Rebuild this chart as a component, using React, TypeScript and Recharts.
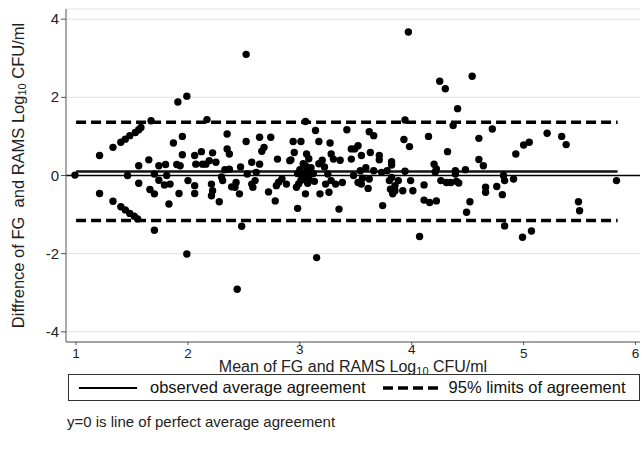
import { ScatterChart, Scatter, XAxis, YAxis, CartesianGrid, ReferenceLine, Label } from 'recharts'

const FONT = '"Liberation Sans", Arial, Helvetica, sans-serif'

// Bland-Altman: mean of the two methods vs their difference (log10 CFU/ml)
const pointsLow: [number, number][] = [
  [0.99, 0.01], [1.21, 0.51], [1.33, 0.72], [1.40, 0.85], [1.44, 0.93], [1.48, 1.02],
  [1.53, 1.10], [1.56, 1.17], [1.58, 1.23], [1.67, 1.40], [1.21, -0.46], [1.33, -0.66],
  [1.40, -0.80], [1.44, -0.88], [1.48, -0.97], [1.52, -1.04], [1.55, -1.11], [1.46, 0.0],
  [1.56, 0.25], [1.56, -0.2], [1.65, 0.40], [1.66, -0.36], [1.70, 0.04], [1.70, -0.47],
  [1.70, -1.40], [1.74, 0.25], [1.74, -0.12], [1.79, -0.24], [1.80, 0.28], [1.83, -0.73],
  [1.81, 0.0], [1.87, 0.83], [1.90, 0.28], [1.91, 1.88], [1.92, -0.46], [1.95, 1.0],
  [1.95, 0.53], [1.93, 0.25], [1.99, 2.03], [1.99, -2.01], [2.0, -0.13], [1.84, -0.22],
]

const pointsMid: [number, number][] = [
  [2.06, 0.51], [2.07, 0.29], [2.06, -0.26], [2.06, -0.46], [2.12, 0.61], [2.13, 0.29],
  [2.17, 1.43], [2.16, 0.29], [2.19, 0.38], [2.21, -0.22], [2.22, -0.39], [2.21, -0.52],
  [2.22, 0.58], [2.25, 0.34], [2.28, -0.67], [2.31, -0.13], [2.30, -0.04], [2.33, 0.15],
  [2.35, 1.06], [2.35, 0.68], [2.37, 0.55], [2.37, 0.16], [2.39, -0.29], [2.42, -0.30],
  [2.43, -0.18], [2.44, -2.91], [2.46, -0.47], [2.48, -1.30], [2.47, 0.22], [2.52, 3.1],
  [2.52, 0.87], [2.53, 0.04], [2.57, 0.34], [2.57, -0.22], [2.58, -0.30], [2.60, -0.13],
  [2.61, 0.08], [2.64, 0.98], [2.64, 0.29], [2.68, 0.72], [2.66, 0.62], [2.72, -0.42],
  [2.74, 0.98], [2.78, -0.65], [2.79, -0.26], [2.80, 0.42], [2.81, -0.17], [2.84, -0.09],
  [2.88, -0.22], [2.91, 0.38], [2.92, 0.40], [2.94, 0.87], [2.95, 0.59], [2.97, -0.30],
  [2.98, -0.84], [2.99, -0.21], [2.98, 0.05], [3.0, 0.15], [3.02, 0.0], [3.04, -0.1],
  [3.05, 0.25], [3.06, 0.1], [3.08, -0.05], [3.10, 0.2], [3.12, 0.05], [3.13, -0.15],
  [3.03, 0.3], [3.07, -0.2], [3.01, -0.12], [3.01, 0.87], [3.05, 1.38], [3.05, -0.47],
  [3.06, 0.55], [3.08, 0.43], [3.14, 1.15], [3.15, -2.10], [3.17, 0.87], [3.18, -0.47],
  [3.17, 0.30], [3.20, 0.39], [3.22, 0.22], [3.23, -0.22], [3.26, -0.43], [3.27, 0.83],
  [3.28, 0.55], [3.25, 0.04], [3.28, -0.13], [3.30, 0.42], [3.32, -0.22], [3.35, -0.86],
  [3.36, 0.39], [3.38, -0.18], [3.42, 1.17], [3.46, 0.68], [3.46, 0.42], [3.49, 0.68],
  [3.48, 0.0], [3.52, 0.76], [3.52, -0.18],
]

const pointsHigh: [number, number][] = [
  [3.55, 0.51], [3.54, 0.12], [3.55, -0.22], [3.56, -0.07], [3.59, 0.20], [3.61, -0.33],
  [3.62, 1.12], [3.63, 0.59], [3.62, -0.09], [3.66, 1.02], [3.66, 0.12], [3.71, 0.51],
  [3.71, 0.40], [3.73, 0.08], [3.74, -0.77], [3.78, 0.12], [3.82, 0.35], [3.82, 0.27],
  [3.80, -0.13], [3.82, -0.05], [3.81, -0.35], [3.83, -0.47], [3.85, -0.26], [3.85, -0.39],
  [3.88, -0.13], [3.92, -0.39], [3.94, 1.42], [3.93, 0.92], [3.94, 0.11], [3.97, 3.67],
  [3.98, 0.74], [3.99, -0.13], [4.01, -0.39], [4.07, -1.56], [4.11, -0.24], [4.11, -0.63],
  [4.15, 1.0], [4.16, -0.69], [4.20, 0.29], [4.21, 0.09], [4.22, 0.17], [4.22, -0.65],
  [4.25, 2.41], [4.30, 2.22], [4.26, -0.13], [4.31, -0.18], [4.32, 0.61], [4.35, -0.18],
  [4.37, 1.28], [4.39, 0.12], [4.39, 0.04], [4.41, 1.71], [4.40, -0.15], [4.42, -0.19],
  [4.48, 0.15], [4.49, -0.94], [4.52, -0.67], [4.54, 2.54], [4.60, 0.95], [4.60, 0.41],
  [4.64, 0.25], [4.66, -0.30], [4.66, -0.43], [4.72, 1.19], [4.76, -0.28], [4.81, -0.49],
  [4.83, -0.13], [4.82, 0.0], [4.83, -1.29], [4.91, -0.09], [4.93, 0.55], [4.99, -1.58],
  [5.0, 0.78], [5.05, 0.85], [5.07, -1.42], [5.21, 1.08], [5.34, 1.0], [5.38, 0.79],
  [5.49, -0.67], [5.50, -0.9], [5.83, -0.13],
]

const meanDiff = 0.1
const upperLimit = 1.36
const lowerLimit = -1.15
const lineStart = 1
const lineEnd = 5.84

const xTicks = [1, 2, 3, 4, 5, 6]
const yTicks = [-4, -2, 0, 2, 4]

const data = [...pointsLow, ...pointsMid, ...pointsHigh].map(([m, d]) => ({ mean: m, diff: d }))

const Dot = (props: any) => <circle cx={props.cx} cy={props.cy} r={3.7} fill="#000" />

// stata nudges the 3 and 4 labels up so they clear the axis title
const XTick = ({ x, y, payload }: any) => {
  const raised = payload.value === 3 || payload.value === 4
  return (
    <text x={x} y={y} dy={raised ? 7 : 11} textAnchor="middle" fontSize={13.5} fill="#222" fontFamily={FONT}>
      {payload.value}
    </text>
  )
}

const YTick = ({ x, y, payload }: any) => (
  <text x={x} y={y} dy={5} textAnchor="end" fontSize={15} fill="#222" fontFamily={FONT}>
    {payload.value}
  </text>
)

const YTitle = ({ viewBox }: any) => {
  const cx = 18
  const cy = viewBox.y + viewBox.height / 2
  return (
    <text
      x={cx}
      y={cy}
      transform={`rotate(-90 ${cx} ${cy})`}
      textAnchor="middle"
      dominantBaseline="central"
      fontSize={16.5}
      fill="#222"
      fontFamily={FONT}
      style={{ whiteSpace: 'pre' }}
    >
      Diffrence of FG  and RAMS Log<tspan fontSize={11} dy={4}>10</tspan>
      <tspan dy={-4}> CFU/ml</tspan>
    </text>
  )
}

const XTitle = ({ viewBox }: any) => {
  const cx = viewBox.x + viewBox.width / 2
  return (
    <text x={cx} y={372} textAnchor="middle" fontSize={16} fill="#222" fontFamily={FONT}>
      Mean of FG and RAMS Log<tspan fontSize={11} dy={3}>10</tspan>
      <tspan dy={-3}> CFU/ml</tspan>
    </text>
  )
}

export default function App() {
  return (
    <div style={{ position: 'absolute', left: 0, top: 0, width: 642, height: 456, background: '#fff' }}>
      <ScatterChart width={642} height={380} margin={{ top: 9, right: 2, bottom: 8, left: 0 }}>
        <CartesianGrid vertical={false} stroke="#e2e2e2" />
        <XAxis
          type="number"
          dataKey="mean"
          domain={[0.91, 6.04]}
          ticks={xTicks}
          height={30}
          tick={<XTick />}
          tickSize={3}
          stroke="#555"
          allowDataOverflow
        >
          <Label content={<XTitle />} />
        </XAxis>
        <YAxis
          type="number"
          dataKey="diff"
          domain={[-4.26, 4.26]}
          ticks={yTicks}
          width={66}
          tick={<YTick />}
          tickSize={5}
          stroke="#555"
          allowDataOverflow
        >
          <Label content={<YTitle />} />
        </YAxis>
        <ReferenceLine y={0} stroke="#000" strokeWidth={1.5} />
        <ReferenceLine segment={[{ x: lineStart, y: meanDiff }, { x: lineEnd, y: meanDiff }]} stroke="#111" strokeWidth={2.5} />
        <ReferenceLine segment={[{ x: lineStart, y: upperLimit }, { x: lineEnd, y: upperLimit }]} stroke="#000" strokeWidth={3.5} strokeDasharray="10 5" />
        <ReferenceLine segment={[{ x: lineStart, y: lowerLimit }, { x: lineEnd, y: lowerLimit }]} stroke="#000" strokeWidth={3.5} strokeDasharray="10 5" />
        <Scatter data={data} fill="#000" shape={<Dot />} isAnimationActive={false} />
      </ScatterChart>
      <div
        style={{
          position: 'absolute', left: 68, top: 374, width: 572, height: 27, boxSizing: 'border-box',
          border: '1.5px solid #333', display: 'flex', alignItems: 'center',
          fontFamily: FONT, fontSize: 16.5, color: '#111', whiteSpace: 'nowrap',
        }}
      >
        <svg width={58} height={8} style={{ marginLeft: 10 }}>
          <line x1={0} x2={58} y1={4} y2={4} stroke="#000" strokeWidth={2} />
        </svg>
        <span style={{ marginLeft: 13 }}>observed average agreement</span>
        <svg width={56} height={8} style={{ marginLeft: 17 }}>
          <line x1={0} x2={56} y1={4} y2={4} stroke="#000" strokeWidth={3.5} strokeDasharray="10 5" />
        </svg>
        <span style={{ marginLeft: 10 }}>95% limits of agreement</span>
      </div>
      <div style={{ position: 'absolute', left: 67, top: 413, fontFamily: FONT, fontSize: 15, color: '#222', whiteSpace: 'nowrap' }}>
        y=0 is line of perfect average agreement
      </div>
    </div>
  )
}
